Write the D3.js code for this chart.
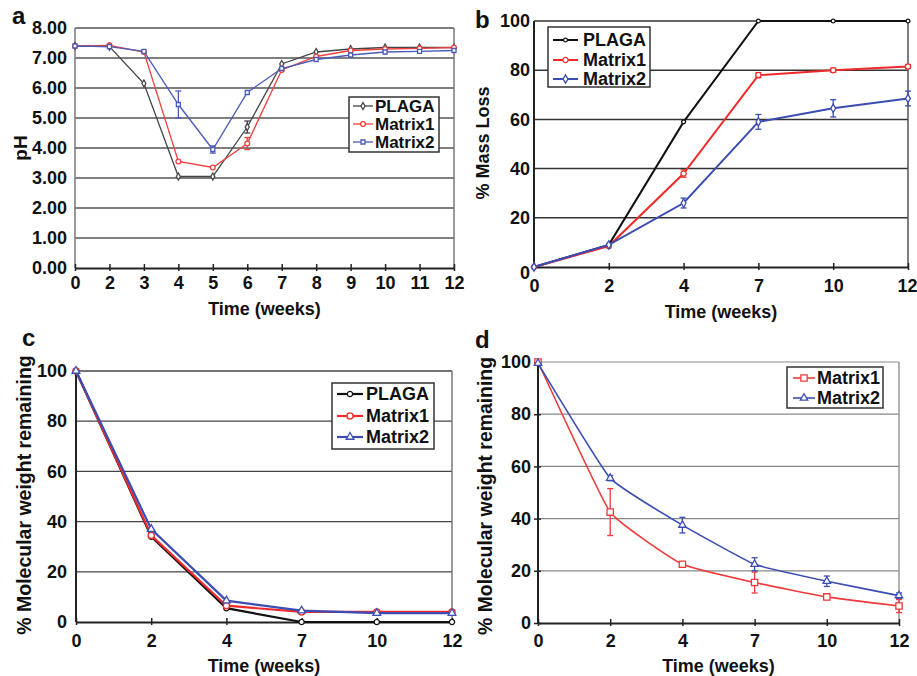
<!DOCTYPE html>
<html><head><meta charset="utf-8">
<script src="https://cdn.jsdelivr.net/npm/d3@7"></script>
<style>body{margin:0;background:#fff}svg{display:block;font-family:"Liberation Sans",Arial,sans-serif;font-weight:bold}</style>
</head><body><svg id="c" width="917" height="676"></svg>
<script>
// ---------- data ----------
const seriesNames = ["PLAGA","Matrix1","Matrix2"];
// Panel a: pH
const phWeeks = ["0","2","3","4","5","6","7","8","9","10","11","12"];
const phPLAGA   = [7.40,7.38,6.15,3.05,3.05,4.70,6.80,7.20,7.30,7.35,7.35,7.35];
const phMatrix1 = [7.40,7.42,7.20,3.55,3.35,4.15,6.60,7.05,7.25,7.30,7.32,7.35];
const phMatrix2 = [7.40,7.38,7.22,5.45,3.95,5.85,6.65,6.95,7.10,7.20,7.22,7.25];
const phErrPLAGA   = [0,0,0,0,0,0.20,0,0,0,0,0,0];
const phErrMatrix1 = [0,0,0,0,0,0.20,0,0,0,0,0,0];
const phErrMatrix2 = [0,0,0,0.45,0.12,0,0,0,0,0,0,0];
const phTicks = [0,1,2,3,4,5,6,7,8];
// Panel b: % mass loss
const weeks = ["0","2","4","7","10","12"];
const mlPLAGA   = [0,9,59,100,100,100];
const mlMatrix1 = [0,8.5,38,78,80,81.5];
const mlMatrix2 = [0,9,26,59,64.5,68.5];
const mlErrPLAGA   = [0,0,0,0,0,0];
const mlErrMatrix1 = [0,0,1.5,1,0.8,0.8];
const mlErrMatrix2 = [0,0,2,3,3.5,3];
// Panel c: % molecular weight remaining
const mwPLAGA   = [100,34,5.5,0,0,0];
const mwMatrix1 = [100,34.5,6.5,4,4,4];
const mwMatrix2 = [100,37,8.5,4.5,3.5,3.5];
// Panel d: % molecular weight remaining
const mwdMatrix1 = [100,42.5,22.5,15.5,10,6.5];
const mwdMatrix2 = [99.5,55.5,37.5,22.5,16,10.5];
const mwdErrMatrix1 = [0,9,1,4,1,2.5];
const mwdErrMatrix2 = [0,1,3,2.5,2,1];
const pctTicks = [0,20,40,60,80,100];

// ---------- drawing ----------
const svg = d3.select("#c");
const FF = "Liberation Sans, Arial, sans-serif";

function panel(o){
  const g = svg.append("g");
  const x = d3.scalePoint().domain(o.cats).range([o.x0,o.x1]);
  const y = d3.scaleLinear().domain(o.ydom).range([o.y1,o.y0]);
  // grid
  g.selectAll("line.grid").data(o.yticks.slice(1)).join("line")
    .attr("x1",o.x0).attr("x2",o.x1).attr("y1",d=>y(d)).attr("y2",d=>y(d))
    .attr("stroke",o.gridColor).attr("stroke-width",o.gridW);
  // frame
  g.append("line").attr("x1",o.x1).attr("x2",o.x1).attr("y1",o.y0).attr("y2",o.y1).attr("stroke",o.frameColor).attr("stroke-width",1.5);
  g.append("line").attr("x1",o.x0).attr("x2",o.x0).attr("y1",o.y0).attr("y2",o.y1).attr("stroke",o.leftColor).attr("stroke-width",o.leftW);
  // x axis
  const xa = g.append("g").attr("transform",`translate(0,${o.y1})`)
    .call(d3.axisBottom(x).tickSize(0).tickPadding(0));
  xa.select(".domain").attr("stroke","#222").attr("stroke-width",2);
  xa.selectAll(".tick text").attr("y",o.xTickBase-o.y1).attr("dy",null)
    .attr("font-size",18).attr("font-weight","bold").attr("fill","#111").attr("font-family",FF);
  if(o.lastShift) xa.selectAll(".tick").filter(d=>d===o.cats[o.cats.length-1]).select("text").attr("dx",o.lastShift);
  xa.selectAll(".tick").append("line").attr("y1",-4).attr("y2",3).attr("stroke","#222").attr("stroke-width",1.5);
  // y axis labels
  const ya = g.append("g").attr("transform",`translate(${o.x0},0)`)
    .call(d3.axisLeft(y).tickValues(o.yticks).tickFormat(o.yfmt).tickSize(0).tickPadding(o.ypad));
  ya.select(".domain").remove();
  ya.selectAll(".tick text").attr("font-size",18).attr("font-weight","bold").attr("fill","#111").attr("font-family",FF);
  if(o.yTickMarks) ya.selectAll(".tick").append("line").attr("x1",-4).attr("x2",o.yTickMarks).attr("stroke","#222").attr("stroke-width",1.5);
  if(o.zeroShift) ya.selectAll(".tick").filter(d=>d===0).select("text").attr("dy","0.62em");
  // titles
  g.append("text").attr("x",(o.x0+o.x1)/2).attr("y",o.xTitleBase).attr("text-anchor","middle")
    .attr("font-size",18).attr("fill","#111").text("Time (weeks)");
  g.append("text").attr("transform",`translate(${o.yTitleX},${o.yTitleY}) rotate(-90)`).attr("text-anchor","middle")
    .attr("dominant-baseline","central").attr("font-size",o.yTitleSize).attr("fill","#111").text(o.ytitle);
  g.append("text").attr("x",o.labX).attr("y",o.labY).attr("font-size",24).attr("fill","#111").text(o.label);
  // series
  o.series.forEach(s=>{
    const pts = s.vals.map((v,i)=>({c:o.cats[i],v,e:s.err?s.err[i]:0}));
    const line = d3.line().x(d=>x(d.c)).y(d=>y(d.v));
    if(o.curve) line.curve(o.curve);
    g.append("path").datum(pts).attr("d",line).attr("fill","none").attr("stroke",s.color).attr("stroke-width",o.lineW);
    const eb = g.append("g");
    pts.filter(d=>d.e>0).forEach(d=>{
      const cx=x(d.c), ya_=y(d.v+d.e), yb=y(d.v-d.e);
      eb.append("line").attr("x1",cx).attr("x2",cx).attr("y1",ya_).attr("y2",yb).attr("stroke",s.color).attr("stroke-width",1.3);
      [ya_,yb].forEach(yy=>eb.append("line").attr("x1",cx-3).attr("x2",cx+3).attr("y1",yy).attr("y2",yy).attr("stroke",s.color).attr("stroke-width",1.3));
    });
    g.append("g").selectAll("path").data(pts).join("path")
      .attr("transform",d=>`translate(${x(d.c)},${y(d.v)})`)
      .attr("d",d3.symbol().type(s.sym).size(s.symSize))
      .attr("fill",s.symFill||"#fff").attr("stroke",s.color).attr("stroke-width",1.3);
  });
  // legend
  const L=o.legend;
  const lg = g.append("g");
  lg.append("rect").attr("x",L.x).attr("y",L.y).attr("width",L.w).attr("height",L.h)
    .attr("fill","#fff").attr("stroke","#333").attr("stroke-width",1.5);
  o.series.forEach((s,i)=>{
    const yy=L.rows[i];
    lg.append("line").attr("x1",L.lx0).attr("x2",L.lx1).attr("y1",yy).attr("y2",yy).attr("stroke",s.color).attr("stroke-width",o.lineW);
    lg.append("path").attr("transform",`translate(${(L.lx0+L.lx1)/2},${yy})`).attr("d",d3.symbol().type(s.sym).size(s.symSize))
      .attr("fill",s.symFill||"#fff").attr("stroke",s.color).attr("stroke-width",1.3);
    lg.append("text").attr("x",L.tx).attr("y",yy).attr("dy","0.35em").attr("font-size",L.fs||18).attr("fill","#111").text(s.name);
  });
}

const BLACK="#111", RED="#f02a2a", BLUE="#3b4db3";

panel({label:"a",labX:12,labY:24,cats:phWeeks,x0:75,x1:454,y0:28,y1:268,ydom:[0,8],yticks:phTicks,
  yfmt:d3.format(".2f"),ypad:8,xTickBase:289,xTitleBase:315,ytitle:"pH",yTitleX:20,yTitleY:148,yTitleSize:19,
  gridColor:"#555",gridW:1.5,frameColor:"#777",leftColor:"#777",leftW:1.5,lineW:1.3,
  series:[
    {name:seriesNames[0],vals:phPLAGA,err:phErrPLAGA,color:"#444",sym:d3.symbolDiamond,symSize:14},
    {name:seriesNames[1],vals:phMatrix1,err:phErrMatrix1,color:"#f04040",sym:d3.symbolCircle,symSize:18},
    {name:seriesNames[2],vals:phMatrix2,err:phErrMatrix2,color:"#4a5ab8",sym:d3.symbolSquare,symSize:16}],
  legend:{x:349,y:97,w:90,h:55,rows:[106,124,142],lx0:353,lx1:373,tx:375,fs:17}});

panel({label:"b",labX:475,labY:28,cats:weeks,x0:534,x1:908,y0:21,y1:267,ydom:[0,100],yticks:pctTicks,
  yfmt:d3.format("d"),ypad:4,zeroShift:true,lastShift:-1,xTickBase:292,xTitleBase:318,ytitle:"% Mass Loss",yTitleX:483,yTitleY:143,yTitleSize:18,
  gridColor:"#333",gridW:1.5,frameColor:"#555",leftColor:"#222",leftW:2,lineW:2,
  series:[
    {name:seriesNames[0],vals:mlPLAGA,err:mlErrPLAGA,color:BLACK,sym:d3.symbolCircle,symSize:12},
    {name:seriesNames[1],vals:mlMatrix1,err:mlErrMatrix1,color:RED,sym:d3.symbolCircle,symSize:22},
    {name:seriesNames[2],vals:mlMatrix2,err:mlErrMatrix2,color:BLUE,sym:d3.symbolDiamond,symSize:20}],
  legend:{x:548,y:27,w:102,h:60,rows:[40,60,79],lx0:553,lx1:578,tx:583}});

panel({label:"c",labX:22,labY:346,cats:weeks,x0:76,x1:452,y0:371,y1:622,ydom:[0,100],yticks:pctTicks,
  yfmt:d3.format("d"),ypad:9,xTickBase:647,xTitleBase:672,ytitle:"% Molecular weight remaining",yTitleX:24,yTitleY:495,yTitleSize:19.5,
  gridColor:"#444",gridW:1.3,frameColor:"#777",leftColor:"#222",leftW:2,lineW:2.2,
  series:[
    {name:seriesNames[0],vals:mwPLAGA,color:BLACK,sym:d3.symbolCircle,symSize:22},
    {name:seriesNames[1],vals:mwMatrix1,color:RED,sym:d3.symbolCircle,symSize:30},
    {name:seriesNames[2],vals:mwMatrix2,color:BLUE,sym:d3.symbolTriangle,symSize:26}],
  legend:{x:332,y:383,w:102,h:66,rows:[394,416,437],lx0:337,lx1:363,tx:366}});

panel({label:"d",labX:475,labY:348,cats:weeks,x0:538,x1:899,y0:362,y1:623,ydom:[0,100],yticks:pctTicks,
  yfmt:d3.format("d"),ypad:7,yTickMarks:3,xTickBase:647,xTitleBase:672,ytitle:"% Molecular weight remaining",yTitleX:485,yTitleY:496,yTitleSize:19.4,
  gridColor:"#888",gridW:1.2,frameColor:"#999",leftColor:"#222",leftW:2,lineW:1.6,curve:d3.curveCardinal.tension(0.65),
  series:[
    {name:seriesNames[1],vals:mwdMatrix1,err:mwdErrMatrix1,color:"#f03a3a",sym:d3.symbolSquare,symSize:40},
    {name:seriesNames[2],vals:mwdMatrix2,err:mwdErrMatrix2,color:BLUE,sym:d3.symbolTriangle,symSize:24}],
  legend:{x:787,y:367,w:96,h:41,rows:[378,398],lx0:793,lx1:815,tx:817}});
</script></body></html>
